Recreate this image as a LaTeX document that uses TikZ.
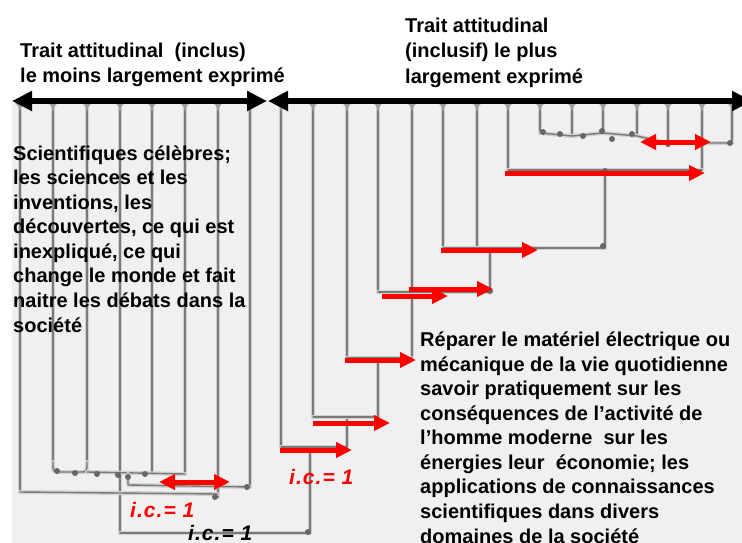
\documentclass[tikz,border=0pt]{standalone}
\usepackage{fontspec}
\setmainfont{Liberation Sans}
\newfontfamily\icfont[LetterSpace=5]{Liberation Sans}
\usetikzlibrary{arrows.meta}
\tikzset{
  dblur/.style={draw=black!18, line width=4pt, line join=round, line cap=round},
  dline/.style={draw=black!52, line width=1.4pt, line join=round, line cap=round},
  blob/.style={fill=black!60},
  leaftop/.style={fill=black!38},
  redarrow/.style={draw=red, line width=5pt, -{Triangle[length=16pt,width=15pt]}},
  reddbl/.style={draw=red, line width=5pt, {Triangle[length=16pt,width=15pt]}-{Triangle[length=16pt,width=15pt]}},
  blackdbl/.style={draw=black, line width=5.5pt, {Triangle[length=20pt,width=19pt]}-{Triangle[length=20pt,width=19pt]}},
  txt/.style={anchor=base west, align=left, inner sep=0pt, font=\bfseries\fontsize{20}{25.5}\selectfont},
  body/.style={anchor=base west, align=left, inner sep=0pt, font=\bfseries\fontsize{20}{24.55}\selectfont},
  iclabel/.style={anchor=base west, inner sep=0pt, font=\icfont\bfseries\itshape\fontsize{21}{24}\selectfont}
}
\newcommand\myden[1]{\draw[dblur] #1; \draw[dline] #1;}
\begin{document}
\begin{tikzpicture}[x=1pt,y=-1pt]
\useasboundingbox (0,0) rectangle (742,543);
\fill[black!6] (12,100) rectangle (742,543);

% leaves
\foreach \x/\b in {20/492,53/470,87/470,120/533,152/472,185/472,218/497,250/487,
  281/447,313/417,347/358,378/292,412/358,443/248,477/248,508/170,
  540/133,572/135,603/132,637/135,668/145,702/170,732/143}{
  \myden{(\x,104) -- (\x,\b)}
  \fill[leaftop] (\x-5,103) .. controls (\x-2,105) .. (\x,112) .. controls (\x+2,105) .. (\x+5,103) -- cycle;
}

% left cluster
\myden{(53,462) .. controls (53,472) .. (62,472) -- (80,472) .. controls (87,472) .. (87,462)}
\myden{(87,472) -- (185,474)}
\myden{(128,474) -- (128,485) -- (250,487)}
\myden{(20,492) -- (218,494)}
\myden{(120,533) -- (310,533) -- (310,447)}

% right chain
\myden{(281,447) -- (347,447) -- (347,417)}
\myden{(313,417) -- (378,417) -- (378,358)}
\myden{(347,358) -- (412,358)}
\myden{(378,292) -- (490,292) -- (490,248)}
\myden{(443,248) -- (605,248) -- (605,170)}
\myden{(508,170) -- (702,170)}
\myden{(540,133) -- (572,136) -- (603,133) -- (637,136) -- (668,143) -- (732,143)}

% blobs
\foreach \x/\y in {57/471,75/473,97/474,118/475,128/477,145/474,215/497,247/487,
  308/532,603/246,543/132,560/134,583/136,602/131,612/139,632/134,668/144,730/143,
  490/291,605/171}{
  \fill[blob] (\x,\y) circle (3pt);
}

% black top arrows
\draw[blackdbl] (12,101) -- (267,101);
\draw[blackdbl] (268,101) -- (752,101);

% red arrows
\draw[reddbl] (640,142) -- (711,142);
\draw[redarrow] (505,173) -- (705,173);
\draw[redarrow] (441,250) -- (538,250);
\draw[redarrow] (409,289) -- (493,289);
\draw[redarrow] (382,296) -- (448,296);
\draw[redarrow] (345,360) -- (416,360);
\draw[redarrow] (313,423) -- (390,423);
\draw[redarrow] (280,450) -- (352,450);
\draw[reddbl] (159,482) -- (230,482);

% texts (base = baseline of the last line)
\node[txt] (tl) at (20,83) {Trait attitudinal~ (inclus)\\le moins largement exprimé};
\node[txt] (tr) at (405,83.5) {Trait attitudinal\\(inclusif) le plus\\largement exprimé};
\node[body] (bl) at (13,332) {Scientifiques célèbres;\\les sciences et les\\inventions, les\\découvertes, ce qui est\\inexpliqué, ce qui\\change le monde et fait\\naitre les débats dans la\\société};
\node[body] (br) at (420,543) {Réparer le matériel électrique ou\\mécanique de la vie quotidienne\\savoir pratiquement sur les\\conséquences de l’activité de\\l’homme moderne~ sur les\\énergies leur~ économie; les\\applications de connaissances\\scientifiques dans divers\\domaines de la société};
\node[iclabel, text=red] (ic1) at (289,484) {i.c.= 1};
\node[iclabel, text=red] (ic2) at (130,517) {i.c.= 1};
\node[iclabel, text=black] (ic3) at (188,540) {i.c.= 1};
\end{tikzpicture}
\end{document}
